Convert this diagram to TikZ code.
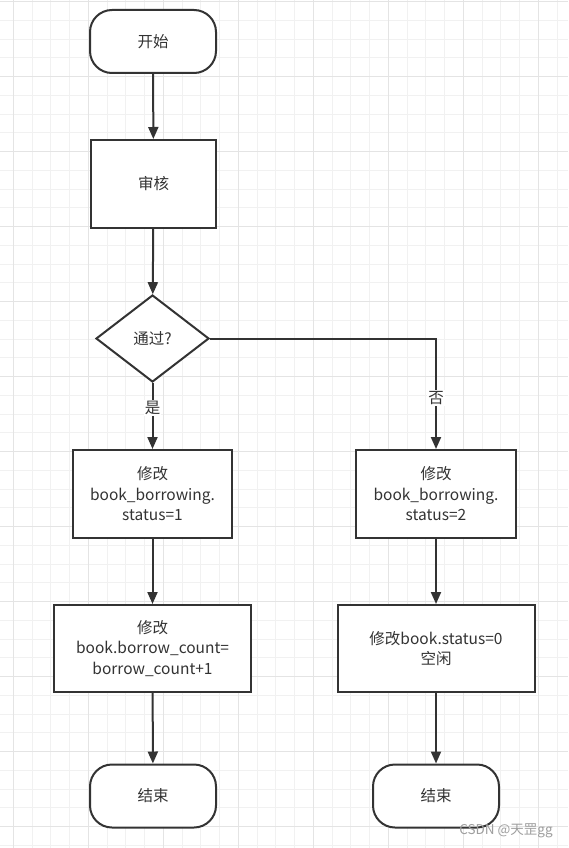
\documentclass[tikz,border=0pt]{standalone}
\usepackage{fontspec}
\setmainfont{Noto Sans CJK SC}
\usetikzlibrary{shapes.geometric,arrows.meta}
\definecolor{ink}{HTML}{333333}
\definecolor{txt}{HTML}{333333}
\definecolor{gridminor}{HTML}{F1F1F1}
\definecolor{gridmajor}{HTML}{E4E4E4}
\tikzset{
  base/.style={draw=ink, line width=2pt, fill=white, text=txt, align=center,
    font=\fontsize{15.5}{20.5}\selectfont, inner sep=0pt},
  term/.style={base, rounded corners=22pt, minimum width=126pt, minimum height=63pt},
  proc/.style={base, rectangle},
  dec/.style={base, diamond, minimum width=113pt, minimum height=87pt},
  conn/.style={draw=ink, line width=2pt, -{Triangle[length=12pt,width=10pt]}},
  lbl/.style={fill=white, text=txt, font=\fontsize{15.5}{17}\selectfont, inner sep=1pt}
}
\begin{document}
\begin{tikzpicture}[x=1pt,y=-1pt]
\useasboundingbox (0,0) rectangle (568,848);
\fill[white] (0,0) rectangle (568,848);
% grid
\foreach \i in {0,...,30} \draw[gridminor, line width=1pt] (13.3+18.75*\i,0) -- (13.3+18.75*\i,848);
\foreach \i in {0,...,45} \draw[gridminor, line width=1pt] (0,1.7+18.75*\i) -- (568,1.7+18.75*\i);
\foreach \i in {0,...,7} \draw[gridmajor, line width=1pt] (13.3+75*\i,0) -- (13.3+75*\i,848);
\foreach \i in {0,...,11} \draw[gridmajor, line width=1pt] (0,1.7+75*\i) -- (568,1.7+75*\i);
% nodes
\node[term] (start) at (153,41.5) {开始};
\node[proc, minimum width=125pt, minimum height=88pt] (audit) at (153.5,184) {审核};
\node[dec] (pass) at (152.5,338.5) {通过?};
\node[proc, minimum width=159pt, minimum height=88pt] (l1) at (152.5,494) {修改\\book\_borrowing.\\status=1};
\node[proc, minimum width=197pt, minimum height=87pt] (l2) at (152.5,648.5) {修改\\book.borrow\_count=\\borrow\_count+1};
\node[term] (lend) at (153,796) {结束};
\node[proc, minimum width=160pt, minimum height=88pt] (r1) at (436,494) {修改\\book\_borrowing.\\status=2};
\node[proc, minimum width=197pt, minimum height=87pt] (r2) at (436,648.5) {修改book.status=0\\空闲};
\node[term] (rend) at (436,796) {结束};
% connectors
\draw[conn] (start) -- (audit);
\draw[conn] (audit) -- (pass);
\draw[conn] (pass) -- node[lbl, pos=0.38] (yes) {是} (l1);
\draw[conn] (pass.east) -| coordinate[pos=0.5] (corner) (r1.north);
\node[lbl] (no) at (436,398) {否};
\draw[conn] (l1) -- (l2);
\draw[conn] (l2) -- (lend);
\draw[conn] (r1) -- (r2);
\draw[conn] (r2) -- (rend);
% watermark
\node[text=black!38, font=\fontsize{13.5}{15}\selectfont, inner sep=0pt] (wm) at (506,831) {CSDN @天罡gg};
\end{tikzpicture}
\end{document}
